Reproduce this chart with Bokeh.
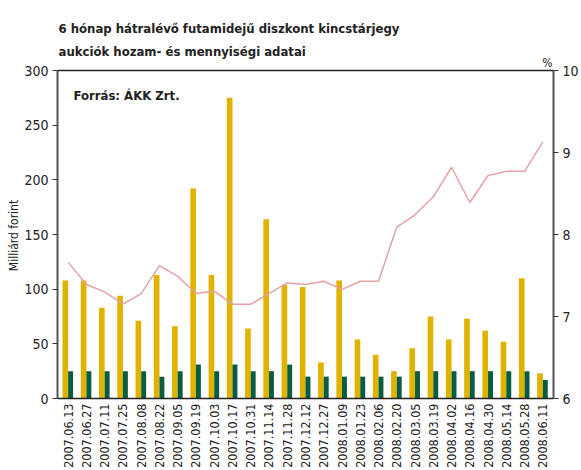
import math
from bokeh.plotting import figure
from bokeh.models import FactorRange, Range1d, LinearAxis, Label, FixedTicker, Span
from bokeh.transform import dodge
from bokeh.core.properties import value
from bokeh.embed import file_html
from bokeh.resources import INLINE

dates = ["2007.06.13", "2007.06.27", "2007.07.11", "2007.07.25", "2007.08.08",
         "2007.08.22", "2007.09.05", "2007.09.19", "2007.10.03", "2007.10.17",
         "2007.10.31", "2007.11.14", "2007.11.28", "2007.12.12", "2007.12.27",
         "2008.01.09", "2008.01.23", "2008.02.06", "2008.02.20", "2008.03.05",
         "2008.03.19", "2008.04.02", "2008.04.16", "2008.04.30", "2008.05.14",
         "2008.05.28", "2008.06.11"]
offered = [108, 108, 83, 94, 71, 113, 66, 192, 113, 275, 64, 164, 104, 102, 33,
           108, 54, 40, 25, 46, 75, 54, 73, 62, 52, 110, 23]
accepted = [25, 25, 25, 25, 25, 20, 25, 31, 25, 31, 25, 25, 31, 20, 20,
            20, 20, 20, 20, 25, 25, 25, 25, 25, 25, 25, 17]
yields = [7.66, 7.39, 7.30, 7.15, 7.28, 7.62, 7.49, 7.28, 7.31, 7.15, 7.15, 7.28,
          7.41, 7.39, 7.43, 7.33, 7.43, 7.43, 8.09, 8.24, 8.46, 8.82, 8.39, 8.72,
          8.77, 8.77, 9.13]
left_ticks = [0, 50, 100, 150, 200, 250, 300]
right_ticks = [6, 7, 8, 9, 10]

title1 = "6 hónap hátralévő futamidejű diszkont kincstárjegy"
title2 = "aukciók hozam- és mennyiségi adatai"
source_note = "Forrás:  ÁKK Zrt."
left_label = "Milliárd forint"
right_unit = "%"

FONT = "DejaVu Sans Condensed"
GOLD = "#E0B300"
GREEN = "#0A5C42"
PINK = "#E4A2A6"
TXT = "#222222"

data = dict(date=dates, offered=offered, accepted=accepted, yields=yields)

# frame covers the whole figure height; the visible box is 0..300 (6..10 %)
FIG_W = 581
FIG_H = 470
LEFT_PX = 57
RIGHT_PX = 27
TOP_PX = 70      # px above the 300 line
BOT_PX = 72      # px below the 0 line
BOX_H = FIG_H - TOP_PX - BOT_PX
BOX_W = FIG_W - LEFT_PX - RIGHT_PX
PAD = 0.085
ppu = BOX_H / 300.0
ppp = BOX_H / 4.0
cat_px = BOX_W / (len(dates) + 2 * PAD)

p = figure(x_range=FactorRange(*dates, range_padding=PAD, range_padding_units="absolute"),
           y_range=Range1d(-BOT_PX / ppu, 300 + TOP_PX / ppu), title=None,
           x_axis_location=None,
           width=FIG_W, height=FIG_H, output_backend="svg", toolbar_location=None,
           min_border_left=LEFT_PX, min_border_right=RIGHT_PX, min_border_top=0, min_border_bottom=0)
p.extra_y_ranges = {"pct": Range1d(6 - BOT_PX / ppp, 10 + TOP_PX / ppp)}

p.vbar(x=dodge("date", -0.155, range=p.x_range), top="offered", width=0.31,
       source=data, color=GOLD, line_color=None)
p.vbar(x=dodge("date", 0.135, range=p.x_range), top="accepted", width=0.27,
       source=data, color=GREEN, line_color=None)
p.line(x="date", y="yields", source=data, y_range_name="pct", color=PINK, line_width=1.5)

# date labels under the baseline
p.text(x="date", y=0, text="date", source=data, angle=math.pi / 2, y_offset=5,
       text_align="right", text_baseline="middle", text_font_size="12.5px",
       text_font=value(FONT), text_color=TXT)

p.grid.visible = False
p.outline_line_color = None
p.background_fill_color = "white"
p.border_fill_color = "white"

p.add_layout(Span(location=300, dimension="width", line_color="#222222", line_width=1.5))
p.add_layout(Span(location=0, dimension="width", line_color="#222222", line_width=1.5))

# left axis
ya = p.yaxis[0]
ya.ticker = FixedTicker(ticks=left_ticks)
ya.bounds = (0, 300)
ya.axis_line_color = "#555555"
ya.axis_line_width = 2
ya.major_tick_line_color = "#333333"
ya.major_tick_out = 5
ya.major_tick_in = 0
ya.minor_tick_line_color = None
ya.major_label_text_font = FONT
ya.major_label_text_font_size = "14px"
ya.major_label_text_color = TXT
ya.major_label_standoff = 4
ya.axis_label = left_label
ya.axis_label_text_font = FONT
ya.axis_label_text_font_size = "12px"
ya.axis_label_text_font_style = "normal"
ya.axis_label_text_color = TXT
ya.axis_label_standoff = 0

# right axis
ra = LinearAxis(y_range_name="pct", ticker=FixedTicker(ticks=right_ticks), bounds=(6, 10))
ra.axis_line_color = "#555555"
ra.axis_line_width = 2
ra.major_tick_line_color = "#333333"
ra.major_tick_out = 5
ra.major_tick_in = 0
ra.minor_tick_line_color = None
ra.major_label_text_font = FONT
ra.major_label_text_font_size = "14px"
ra.major_label_text_color = TXT
ra.major_label_standoff = 4
p.add_layout(ra, "right")


def ysc(px_above_top):
    return 300 + px_above_top / ppu


def xsc(px_from_left):
    return -PAD + px_from_left / cat_px


p.add_layout(Label(x=xsc(1), y=ysc(42), text=title1, text_font=FONT, text_font_size="13px",
                   text_font_style="bold", text_color=TXT, text_baseline="alphabetic"))
p.add_layout(Label(x=xsc(1), y=ysc(19), text=title2, text_font=FONT, text_font_size="13px",
                   text_font_style="bold", text_color=TXT, text_baseline="alphabetic"))
p.add_layout(Label(x=xsc(16), y=ysc(-25), text=source_note, text_font=FONT, text_font_size="13px",
                   text_font_style="bold", text_color=TXT, text_baseline="alphabetic"))
p.add_layout(Label(x=xsc(BOX_W - 1), y=ysc(8), text=right_unit, text_font=FONT, text_font_size="12px",
                   text_color=TXT, text_baseline="alphabetic", text_align="right"))

open("out.html", "w").write(file_html(p, INLINE))
